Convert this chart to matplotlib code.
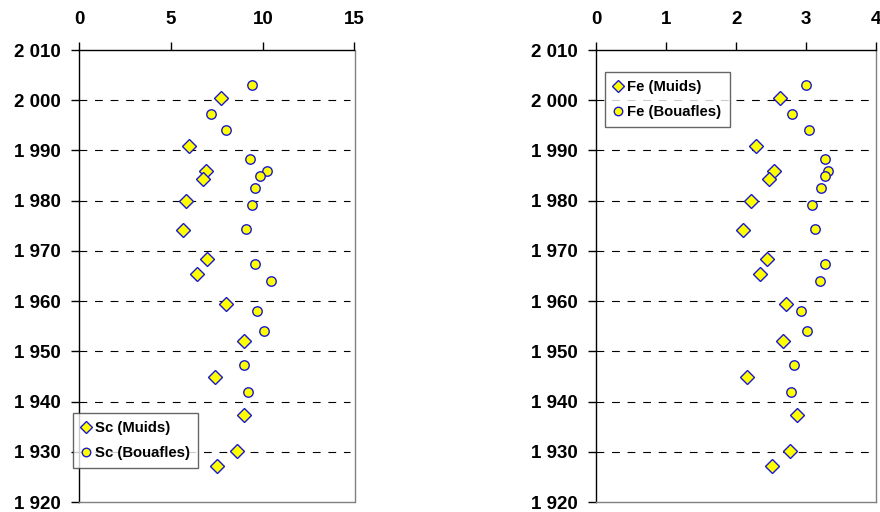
import matplotlib
matplotlib.use("Agg")
import matplotlib.pyplot as plt
from matplotlib.ticker import FuncFormatter, MultipleLocator

# ------------------ datos ------------------
annees_muids = [2000.5, 1990.8, 1985.9, 1984.4, 1980.0, 1974.2, 1968.3, 1965.3,
                1959.5, 1952.1, 1944.8, 1937.4, 1930.1, 1927.1]
annees_bouafles = [2003.1, 1997.3, 1994.0, 1988.35, 1986.0, 1984.85, 1982.5, 1979.05,
                   1974.35, 1967.45, 1963.95, 1957.95, 1953.95, 1947.2, 1942.0]

sc_muids = [7.71, 5.99, 6.92, 6.72, 5.79, 5.65, 6.95, 6.42,
            7.97, 8.95, 7.40, 8.98, 8.58, 7.50]
sc_bouafles = [9.42, 7.17, 8.00, 9.28, 10.24, 9.84, 9.58, 9.42,
               9.07, 9.56, 10.45, 9.71, 10.09, 9.00, 9.22]

fe_muids = [2.63, 2.28, 2.54, 2.46, 2.21, 2.09, 2.44, 2.34,
            2.71, 2.67, 2.15, 2.86, 2.77, 2.51]
fe_bouafles = [3.00, 2.79, 3.04, 3.26, 3.31, 3.27, 3.21, 3.08,
               3.12, 3.26, 3.19, 2.93, 3.01, 2.82, 2.78]

# ------------------ estilo ------------------
plt.rcParams['font.family'] = ['Liberation Sans', 'DejaVu Sans']
JAUNE = "#ffff00"
BLEU = "#1a1acc"
W, H = 880, 512


def fmt_annee(v, pos):
    return f"{int(round(v)):,}".replace(",", " ")


def panneau(fig, rect, xmax, xstep, muids, bouafles, nom, leg_bbox):
    ax = fig.add_axes(rect)
    # grille horizontale en tirets
    for y in range(1930, 2010, 10):
        ax.plot([0, xmax * 0.985], [y, y], color="black", lw=0.8,
                ls=(0, (7, 7)), zorder=1)
    ax.plot(muids, annees_muids, ls="none", marker="D", ms=6.8, mfc=JAUNE,
            mec=BLEU, mew=1.0, label=f"{nom} (Muids)", zorder=3)
    ax.plot(bouafles, annees_bouafles, ls="none", marker="o", ms=6.8, mfc=JAUNE,
            mec=BLEU, mew=1.0, label=f"{nom} (Bouafles)", zorder=3)

    ax.set_xlim(0, xmax)
    ax.set_ylim(1920, 2010)
    ax.xaxis.set_major_locator(MultipleLocator(xstep))
    ax.yaxis.set_major_locator(MultipleLocator(10))
    ax.yaxis.set_major_formatter(FuncFormatter(fmt_annee))
    ax.xaxis.tick_top()
    ax.tick_params(axis="both", direction="out", length=6, width=1,
                   labelsize=13.5, pad=7)
    ax.tick_params(axis="x", pad=9.5)
    for lab in ax.get_xticklabels() + ax.get_yticklabels():
        lab.set_fontweight("bold")
    ax.spines["left"].set_color("black")
    ax.spines["top"].set_color("black")
    ax.spines["right"].set_color("#808080")
    ax.spines["bottom"].set_color("#808080")
    for s in ax.spines.values():
        s.set_linewidth(1)

    leg = ax.legend(loc="upper left", bbox_to_anchor=leg_bbox,
                    bbox_transform=fig.transFigure, frameon=True, fancybox=False,
                    handlelength=0.6, handletextpad=0.35, borderpad=0.55,
                    labelspacing=0.75, markerscale=0.9,
                    prop={"weight": "bold", "size": 10.7}, borderaxespad=0)
    leg.get_frame().set_edgecolor("#404040")
    leg.get_frame().set_linewidth(1)
    return ax


fig = plt.figure(figsize=(W / 100, H / 100), dpi=100)

panneau(fig, [79.3 / W, 10 / H, 275.2 / W, 452 / H], 15, 5,
        sc_muids, sc_bouafles, "Sc", (73 / W, 1 - 412.7 / H))
panneau(fig, [596.3 / W, 10 / H, 280 / W, 452 / H], 4, 1,
        fe_muids, fe_bouafles, "Fe", (605 / W, 1 - 71.7 / H))

fig.savefig("out.png", dpi=100)
